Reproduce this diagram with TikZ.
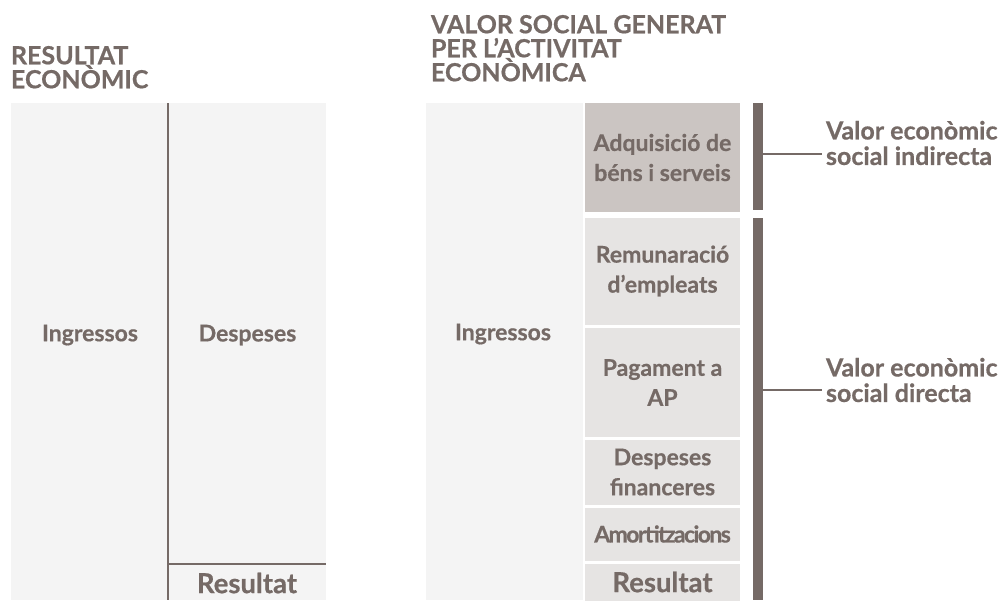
\documentclass[tikz,border=0pt]{standalone}
\usepackage{fontspec}
\setmainfont{Lato}[BoldFeatures={FakeBold=0.6}]
\definecolor{taupe}{RGB}{117,106,102}
\definecolor{bgpanel}{RGB}{244,244,244}
\definecolor{boxdark}{RGB}{203,197,194}
\definecolor{boxlight}{RGB}{230,228,227}
\begin{document}
\begin{tikzpicture}[x=1pt,y=-1pt,
  every node/.style={inner sep=0pt,outer sep=0pt,text=taupe,font=\bfseries},
  title/.style={anchor=north west,align=left,font=\fontsize{25}{24}\selectfont\bfseries},
  lbl/.style={align=center,font=\fontsize{23}{30}\selectfont\bfseries},
  res/.style={font=\fontsize{27.5}{30}\selectfont\bfseries},
  side/.style={anchor=west,align=left,font=\fontsize{25}{25.5}\selectfont\bfseries},
  panel/.style={fill=bgpanel,draw=none},
  cell/.style={fill=boxlight,draw=none},
  rule/.style={draw=taupe,line width=2pt},
  bar/.style={fill=taupe,draw=none}]
\useasboundingbox (0,0) rectangle (1008,600);
\fill[white] (0,0) rectangle (1008,600);
% titles
\node[title] (t1) at (11,46) {RESULTAT\\ECONÒMIC};
\node[title] (t2) at (431,15) {VALOR SOCIAL GENERAT\\PER L’ACTIVITAT\\ECONÒMICA};
% left panel
\fill[panel] (11,103) rectangle (326,600);
\coordinate (vtop) at (168,103);
\coordinate (vbot) at (168,600);
\coordinate (hl) at (168,564);
\coordinate (hr) at (326,564);
\draw[rule] (vtop) -- (vbot);
\draw[rule] (hl) -- (hr);
\node[lbl] (ing1) at (90,335) {Ingressos};
\node[lbl] (desp) at (247.5,335) {Despeses};
\node[res] (res1) at (247,583) {Resultat};
% right panel
\fill[panel] (426,103) rectangle (583,600);
\node[lbl] (ing2) at (503,334) {Ingressos};
\fill[boxdark] (585,103) rectangle (740,212);
\fill[cell] (585,217.5) rectangle (740,325);
\fill[cell] (585,328) rectangle (740,437);
\fill[cell] (585,439.5) rectangle (740,504.5);
\fill[cell] (585,507.5) rectangle (740,560.5);
\fill[cell] (585,563.5) rectangle (740,610);
\node[lbl] (adq) at (662.5,157.5) {Adquisició de\\béns i serveis};
\node[lbl] (rem) at (662.5,271) {Remunaració\\d’empleats};
\node[lbl] (pag) at (662.5,382.5) {Pagament a\\AP};
\node[lbl] (dfin) at (662.5,472) {Despeses\\financeres};
\node[lbl,font=\fontsize{23}{30}\selectfont\bfseries\addfontfeatures{LetterSpace=-7}] (amo) at (662.5,534) {Amortitzacions};
\node[res] (res2) at (662.5,582) {Resultat};
% bars
\node[bar,minimum width=10pt,minimum height=107pt] (bar1) at (758,156.5) {};
\node[bar,minimum width=10pt,minimum height=382pt] (bar2) at (758,409) {};
\node[side] (v1) at (826,143) {Valor econòmic\\social indirecta};
\node[side] (v2) at (826,380) {Valor econòmic\\social directa};
\coordinate (c1) at (822,154);
\coordinate (c2) at (822,390);
\draw[rule] (bar1.east |- c1) -- (c1);
\draw[rule] (bar2.east |- c2) -- (c2);
\end{tikzpicture}
\end{document}
